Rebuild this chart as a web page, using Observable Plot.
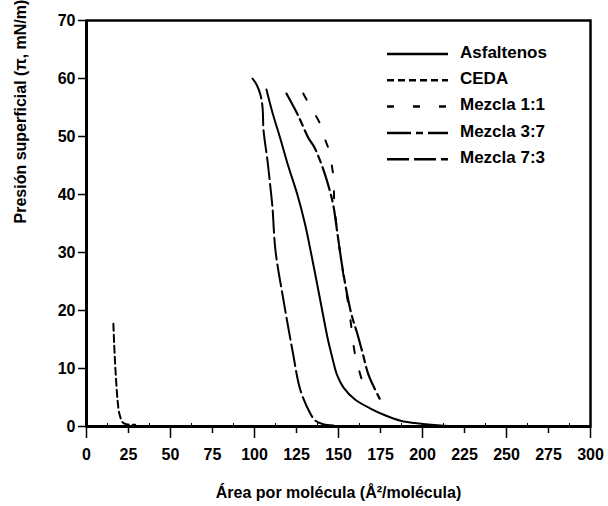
<!DOCTYPE html>
<html><head><meta charset="utf-8">
<script src="https://cdn.jsdelivr.net/npm/d3@7"></script>
<script src="https://cdn.jsdelivr.net/npm/@observablehq/plot@0.6"></script>
<style>
body{margin:0;background:#fff;}
svg{font-family:"Liberation Sans",Arial,sans-serif;}
</style>
</head><body><div id="chart"></div>
<script>
const seriesNames = ["Asfaltenos","CEDA","Mezcla 1:1","Mezcla 3:7","Mezcla 7:3"];

const asfArea = [107.1,110.8,115,120,125.5,130,133.6,137,140.3,143.7,146.2,149,153,160,169,178,187,198,210.7,222];
const asfPi   = [58.1,54,50,45,40,35,30,25,20,15,12,9,6.7,4.6,3.1,1.9,1.0,0.5,0.17,0];

const cedaArea = [16,16.5,17.2,18.5,19.5,21.5,23,25,29];
const cedaPi   = [17.7,14,10,4.5,2.3,0.7,0.45,0.35,0.3];

const m11Area = [129,134,138.7,142,144,146,147,147.6,150,153,155.5,157.5,159.5,161,164,165.6];
const m11Pi   = [57.4,54.8,52.4,49.5,47.9,45,42.9,38,32,26,21.7,17.5,13,11,7.9,6.3];

const m37Area = [119,126,132,135.7,141,144.5,147,149.5,152,155,158,161,164.5,168,174.5];
const m37Pi   = [57.4,53.6,49.8,48.1,44.3,41,38,33,28,23,19,16.2,12.5,8.8,4.8];

const m73Area = [98.8,101.5,103.6,104.8,105.4,107.7,109.5,110.7,112.5,117.3,122.6,127.4,133.3,136.3,141,147];
const m73Pi   = [60,58.8,57.1,55,51,45.9,41.2,37.8,30.3,21.7,13.1,6.2,2.2,1.0,0.4,0.17];

const xTickLabels = [0,25,50,75,100,125,150,175,200,225,250,275,300];
const yTickLabels = [0,10,20,30,40,50,60,70];

const styles = {
  "Asfaltenos": {dash: null, w: 2},
  "CEDA": {dash: "7,4", w: 2},
  "Mezcla 1:1": {dash: "7,19", w: 2},
  "Mezcla 3:7": {dash: "24,5,7,5", w: 2.2},
  "Mezcla 7:3": {dash: "22,5", w: 2}
};
const seriesData = {
  "Asfaltenos": [asfArea, asfPi],
  "CEDA": [cedaArea, cedaPi],
  "Mezcla 1:1": [m11Area, m11Pi],
  "Mezcla 3:7": [m37Area, m37Pi],
  "Mezcla 7:3": [m73Area, m73Pi]
};
const rows = [];
for (const s of seriesNames) {
  const [a, p] = seriesData[s];
  a.forEach((v, i) => rows.push({series: s, area: v, pi: p[i]}));
}

const major = xTickLabels.filter(d => d % 50 === 0);
const medium = xTickLabels.filter(d => d % 50 !== 0);
const minor = d3.range(12.5, 300, 25);

function legendMark() {
  const g = d3.create("svg:g")
    .attr("font-size", 17).attr("font-weight", "bold").attr("text-anchor", "start")
    .attr("font-family", '"Liberation Sans",Arial,sans-serif');
  seriesNames.forEach((name, i) => {
    const ty = 51.5 + i * 26.3;
    const st = styles[name];
    const ln = g.append("line").attr("x1", 387).attr("x2", 448)
      .attr("y1", ty + 2.5).attr("y2", ty + 2.5)
      .attr("stroke", "black").attr("stroke-width", 2.5);
    if (st.dash) ln.attr("stroke-dasharray", st.dash);
    g.append("text").attr("x", 460).attr("y", ty).attr("dy", "0.36em")
      .attr("text-anchor", "start").attr("fill", "black").text(name);
  });
  return g.node();
}

const lineMarks = seriesNames.map(s => Plot.line(rows.filter(r => r.series === s), {
  x: "area", y: "pi", stroke: "black", strokeWidth: styles[s].w,
  strokeDasharray: styles[s].dash || undefined, curve: "catmull-rom"
}));

const chart = Plot.plot({
  width: 608, height: 506,
  marginLeft: 86, marginRight: 18, marginTop: 20, marginBottom: 80,
  style: {fontFamily: '"Liberation Sans",Arial,sans-serif', color: "black", background: "white"},
  x: {domain: [0, 300]},
  y: {domain: [0, 70]},
  marks: [
    Plot.axisY(yTickLabels, {tickSize: 8, tickPadding: 3, fontSize: 16, fontWeight: "bold", label: null, strokeWidth: 1.5}),
    Plot.axisX(major, {tickSize: 12, text: null, label: null, strokeWidth: 1.5}),
    Plot.axisX(medium, {tickSize: 7, text: null, label: null, strokeWidth: 1.5}),
    Plot.axisX(minor, {tickSize: 3, dy: -3, text: null, label: null, strokeWidth: 1}),
    Plot.axisX(xTickLabels, {tickSize: 0, tickPadding: 22, fontSize: 16, fontWeight: "bold", label: null}),
    Plot.frame({strokeWidth: 2.5}),
    Plot.ruleX([0], {strokeWidth: 3}),
    Plot.ruleY([0], {strokeWidth: 3}),
    ...lineMarks,
    Plot.text(["Presión superficial (π, mN/m)"], {frameAnchor: "left", dx: -66, rotate: -90, fontSize: 16, fontWeight: "bold", fill: "black"}),
    Plot.text(["Área por molécula (Å²/molécula)"], {frameAnchor: "bottom", dy: 71, fontSize: 16, fontWeight: "bold", fill: "black"}),
    legendMark
  ]
});
document.getElementById("chart").appendChild(chart);
</script>
</body></html>
